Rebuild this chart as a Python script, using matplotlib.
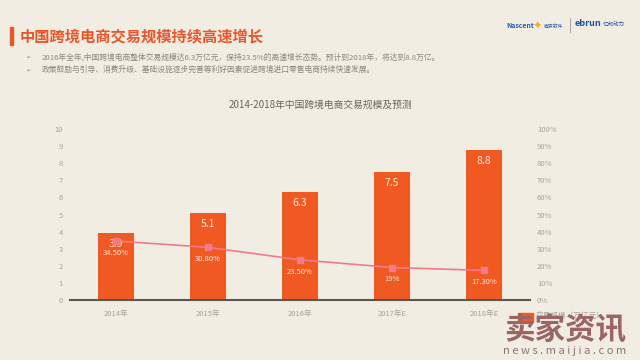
import matplotlib
matplotlib.use("Agg")
import matplotlib.pyplot as plt
from matplotlib.patches import Rectangle

plt.rcParams['font.family'] = ['Noto Sans CJK SC', 'DejaVu Sans']

categories = ["2014年", "2015年", "2016年", "2017年E", "2018年E"]
scale = [3.9, 5.1, 6.3, 7.5, 8.8]
growth = [34.5, 30.8, 23.5, 19.0, 17.3]
growth_labels = ["34.50%", "30.80%", "23.50%", "19%", "17.30%"]
left_ticks = list(range(0, 11))
right_ticks = list(range(0, 101, 10))

bg = "#F1EDE2"
bar_c = "#F05A22"
line_c = "#F27B8B"
grey = "#A8A49C"

fig = plt.figure(figsize=(6.4, 3.6), dpi=100, facecolor=bg)

# header
fig.patches.append(Rectangle((10/640, 1-45/360), 2.5/640, 18/360, transform=fig.transFigure,
                             color="#E8562A", zorder=3))
fig.text(20/640, 1-36/360, "中国跨境电商交易规模持续高速增长", fontsize=11, fontweight="bold",
         color="#E8562A", va="center", ha="left")
fig.text(25/640, 1-57/360, "➢", fontsize=4.5, color="#888", va="center", family="DejaVu Sans")
fig.text(25/640, 1-70/360, "➢", fontsize=4.5, color="#888", va="center", family="DejaVu Sans")
fig.text(42/640, 1-57/360, "2016年全年,中国跨境电商整体交易规模达6.3万亿元，保持23.5%的高速增长态势。预计到2018年，将达到8.8万亿。",
         fontsize=5.6, color="#8C8880", va="center")
fig.text(42/640, 1-70/360, "政策鼓励与引导、消费升级、基础设施逐步完善等利好因素促进跨境进口零售电商持续快速发展。",
         fontsize=5.6, color="#8C8880", va="center")

# logos
fig.text(506/640, 1-26/360, "Nascent", fontsize=5, color="#1F5FB0", fontweight="bold", va="center")
fig.text(533/640, 1-26/360, "✦", fontsize=8, color="#F0B020", va="center", family="DejaVu Sans")
fig.text(544/640, 1-26/360, "南京软件", fontsize=3.5, color="#1F5FB0", va="center")
fig.add_artist(plt.Line2D([570/640, 570/640], [1-18/360, 1-32/360], color="#999", lw=0.6))
fig.text(575/640, 1-24/360, "ebrun", fontsize=6.5, color="#1F4FA0", fontweight="bold", va="center")
fig.text(603/640, 1-24/360, "亿邦动力", fontsize=4, color="#1F4FA0", va="center")

# chart
ax = fig.add_axes([70/640, 1-300/360, 460/640, 171/360])
ax.set_facecolor(bg)
x = list(range(len(categories)))
ax.bar(x, scale, width=0.39, color=bar_c, zorder=2, label="交易规模（万亿元）")
ax.set_xlim(-0.5, 4.5)
ax.set_ylim(0, 10)
ax.set_yticks(left_ticks)
ax.set_xticks(x)
ax.set_xticklabels(categories)
for s in ["top", "right", "left"]:
    ax.spines[s].set_visible(False)
ax.spines["bottom"].set_color("#5A5550")
ax.spines["bottom"].set_linewidth(1.5)
ax.tick_params(axis="both", length=0, labelsize=5.5, colors=grey)
ax.tick_params(axis="y", pad=5)
ax.tick_params(axis="x", pad=7)
for xi, v in zip(x, scale):
    ax.text(xi, v - 0.65, f"{v}", ha="center", va="center", fontsize=7.5, color="#FCE6D8", zorder=5)

ax2 = ax.twinx()
ax2.set_ylim(0, 100)
ax2.set_yticks(right_ticks)
ax2.set_yticklabels([f"{t}%" for t in right_ticks])
for s in ["top", "right", "left", "bottom"]:
    ax2.spines[s].set_visible(False)
ax2.tick_params(axis="y", length=0, labelsize=5.5, colors=grey, pad=5)
ax2.plot(x, growth, color=line_c, lw=1.2, marker="s", markersize=4, zorder=4)
for xi, v, lab in zip(x, growth, growth_labels):
    ax2.text(xi, v - 7.0, lab, ha="center", va="center", fontsize=5.5, color="#FCE6D8", zorder=5)

fig.text(320/640, 1-105/360, "2014-2018年中国跨境电商交易规模及预测", fontsize=7, color="#6A665E",
         ha="center", va="center")

# legend
fig.patches.append(Rectangle((518/640, 1-322/360), 15/640, 9/360, transform=fig.transFigure,
                             color=bar_c, zorder=3))
fig.text(536/640, 1-317/360, "交易规模（万亿元）", fontsize=5.5, color=grey, va="center")

# watermark
fig.text(565/640, 1-329/360, "卖家资讯", fontsize=22, fontweight="bold", color="#9C6464",
         ha="center", va="center", zorder=10)
fig.text(565/640, 1-351/360, "n e w s . m a i j i a . c o m", fontsize=8, color="#8E7474",
         ha="center", va="center", zorder=10)

fig.savefig("out.png", dpi=100, facecolor=bg)
